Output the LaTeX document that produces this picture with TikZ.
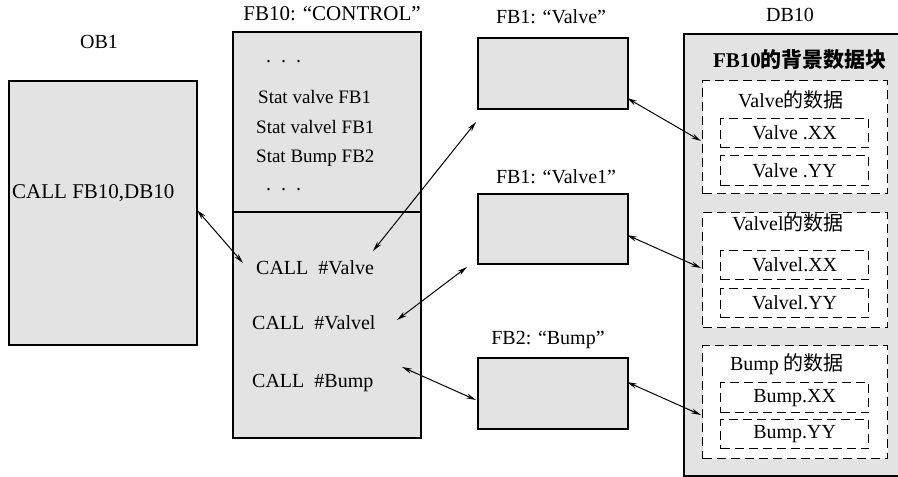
\documentclass[tikz,border=0pt]{standalone}
\usepackage{fontspec}
\setmainfont{Liberation Serif}
\newfontfamily\cjk{Noto Sans CJK SC}
\usetikzlibrary{arrows.meta}
\tikzset{
  blk/.style={draw=black, line width=1.7pt, fill=black!11, anchor=north west, inner sep=0pt},
  grp/.style={draw=black, line width=1.3pt, dash pattern=on 9pt off 5pt, fill=white, anchor=north west, inner sep=0pt},
  txt/.style={font=\fontsize{20}{22}\selectfont, inner sep=0pt},
  lt/.style={txt, anchor=west},
  conn/.style={line width=1pt, {Stealth[length=10pt,width=5pt]}-{Stealth[length=10pt,width=5pt]}}
}
\begin{document}
\begin{tikzpicture}[x=1pt,y=-1pt]
\useasboundingbox (0,0) rectangle (898,477);
\clip (0,0) rectangle (898,477);
% blocks
\node[blk, minimum width=188pt, minimum height=264pt] (ob1) at (8,80) {};
\node[blk, minimum width=188pt, minimum height=406pt] (fb10) at (232,31) {};
\draw[line width=1.7pt] (fb10.west |- 0,212) -- (fb10.east |- 0,212);
\node[blk, minimum width=150pt, minimum height=71pt] (fbv) at (477,37) {};
\node[blk, minimum width=150pt, minimum height=70pt] (fbv1) at (477,193) {};
\node[blk, minimum width=150pt, minimum height=71pt] (fbb) at (477,357) {};
\node[blk, minimum width=230pt, minimum height=442pt] (db10) at (683,33) {};
% groups in DB10
\node[grp, minimum width=185pt, minimum height=113pt] (g1) at (702,80) {};
\node[grp, minimum width=185pt, minimum height=115pt] (g2) at (702,212) {};
\node[grp, minimum width=185pt, minimum height=113pt] (g3) at (702,345) {};
\node[grp, minimum width=148pt, minimum height=29pt] (vxx) at (720,118) {};
\node[grp, minimum width=148pt, minimum height=30pt] (vyy) at (720,155) {};
\node[grp, minimum width=148pt, minimum height=29pt] (v1xx) at (720,250) {};
\node[grp, minimum width=148pt, minimum height=29pt] (v1yy) at (720,288) {};
\node[grp, minimum width=148pt, minimum height=30pt] (bxx) at (720,382) {};
\node[grp, minimum width=148pt, minimum height=29pt] (byy) at (720,419) {};
% titles
\node[txt] (tob1) at (99,42) {OB1};
\node[txt, font=\fontsize{21}{23}\selectfont] (tfb10) at (332,14) {FB10: “CONTROL”};
\node[txt] (tfbv) at (551,17) {FB1: “Valve”};
\node[txt] (tfbv1) at (556,177) {FB1: “Valve1”};
\node[txt] (tfbb) at (548,340) {FB2: “Bump”};
\node[txt] (tdb10) at (790,15) {DB10};
\node[txt, font=\fontsize{21}{23}\selectfont] (tdbh) at (800,60) {\textbf{FB10}{\cjk\bfseries 的背景数据块}};
% OB1 text
\node[lt, font=\fontsize{21}{23}\selectfont] (cfb) at (12,193) {CALL FB10,DB10};
% FB10 texts
\node[lt] (d1) at (266,62) {.\ \ .\ \ .};
\node[lt, font=\fontsize{19}{21}\selectfont] (s1) at (258,97) {Stat valve FB1};
\node[lt, font=\fontsize{19}{21}\selectfont] (s2) at (256,127) {Stat valvel FB1};
\node[lt, font=\fontsize{19}{21}\selectfont] (s3) at (256,158) {Stat Bump FB2};
\node[lt] (d2) at (266,190) {.\ \ .\ \ .};
\node[lt] (c1) at (256,268) {CALL\ \ \#Valve};
\node[lt] (c2) at (252,323) {CALL\ \ \#Valvel};
\node[lt] (c3) at (252,383) {CALL\ \ \#Bump};
% DB10 texts
\node[txt] (l1) at (791,100) {Valve{\cjk 的数据}};
\node[txt] (l2) at (788,223) {Valvel{\cjk 的数据}};
\node[txt] (l3) at (787,364) {Bump {\cjk 的数据}};
\node[txt] at (vxx.center) {Valve .XX};
\node[txt] at (vyy.center) {Valve .YY};
\node[txt] at (v1xx.center) {Valvel.XX};
\node[txt] at (v1yy.center) {Valvel.YY};
\node[txt] at (bxx.center) {Bump.XX};
\node[txt] at (byy.center) {Bump.YY};
% connector ends
\coordinate (a1s) at (197,210);
\coordinate (a1e) at (243,263);
\coordinate (a2s) at (373,251);
\coordinate (a2e) at (476,122);
\coordinate (a3s) at (397,320);
\coordinate (a3e) at (467,267);
\coordinate (a4s) at (402,367);
\coordinate (a4e) at (476,400);
\coordinate (a5s) at (627,98);
\coordinate (a5e) at (701,141);
\coordinate (a6s) at (627,235);
\coordinate (a6e) at (701,268);
\coordinate (a7s) at (627,382);
\coordinate (a7e) at (701,415);
\draw[conn] (a1s) -- (a1e);
\draw[conn] (a2s) -- (a2e);
\draw[conn] (a3s) -- (a3e);
\draw[conn] (a4s) -- (a4e);
\draw[conn] (a5s) -- (a5e);
\draw[conn] (a6s) -- (a6e);
\draw[conn] (a7s) -- (a7e);
\end{tikzpicture}
\end{document}
